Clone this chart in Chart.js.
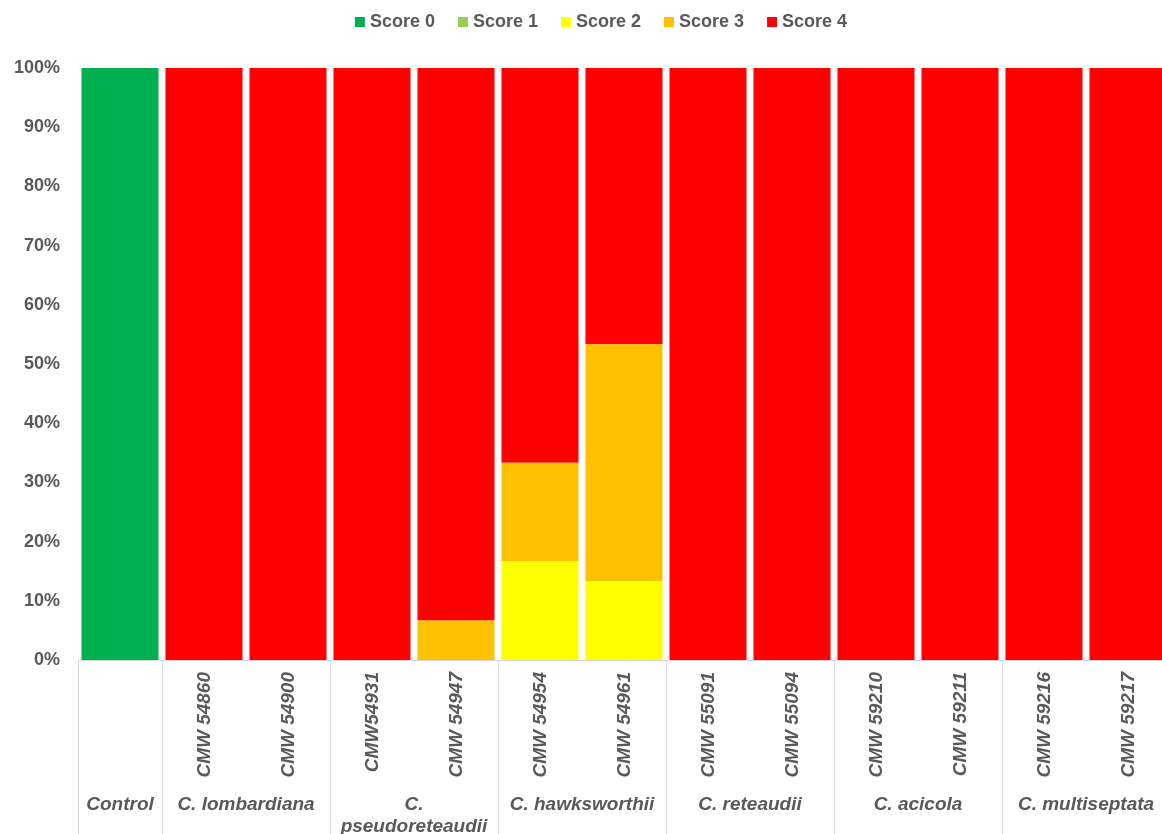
<!DOCTYPE html>
<html>
<head>
<meta charset="utf-8">
<title>Disease score by isolate</title>
<script src="https://cdn.jsdelivr.net/npm/chart.js@4.4.1/dist/chart.umd.min.js"></script>
<style>
  html, body { margin: 0; padding: 0; background: #fff; overflow: hidden; }
  #wrap { width: 1170px; height: 834px; }
</style>
</head>
<body>
<div id="wrap"><canvas id="chart" width="1170" height="834"></canvas></div>
<script>
// Isolates (one bar each) and the species they belong to
const strains = ['', 'CMW 54860', 'CMW 54900', 'CMW54931', 'CMW 54947', 'CMW 54954', 'CMW 54961',
                 'CMW 55091', 'CMW 55094', 'CMW 59210', 'CMW 59211', 'CMW 59216', 'CMW 59217'];
const groupNames = ['Control', 'C. lombardiana', 'C.\npseudoreteaudii', 'C. hawksworthii',
                    'C. reteaudii', 'C. acicola', 'C. multiseptata'];
const groupSizes = [1, 2, 2, 2, 2, 2, 2];

// Percentage of plants in each disease score class
const score0 = [100, 0, 0, 0, 0, 0, 0, 0, 0, 0, 0, 0, 0];
const score1 = [0, 0, 0, 0, 0, 0, 0, 0, 0, 0, 0, 0, 0];
const score2 = [0, 0, 0, 0, 0, 16.67, 13.33, 0, 0, 0, 0, 0, 0];
const score3 = [0, 0, 0, 0, 6.67, 16.67, 40, 0, 0, 0, 0, 0, 0];
const score4 = [0, 100, 100, 100, 93.33, 66.67, 46.67, 100, 100, 100, 100, 100, 100];

const seriesNames = ['Score 0', 'Score 1', 'Score 2', 'Score 3', 'Score 4'];
const seriesColors = ['#00B050', '#92D050', '#FFFF00', '#FFC000', '#FF0000'];
const seriesValues = [score0, score1, score2, score3, score4];

const yTicks = [0, 10, 20, 30, 40, 50, 60, 70, 80, 90, 100];

const FONT = '"Liberation Sans", Arial, sans-serif';
const TEXT = '#595959';
const LINE = '#d9d9d9';

// Legend across the top, centred above the plot
const topLegend = {
  id: 'topLegend',
  afterDraw(chart) {
    const ctx = chart.ctx;
    ctx.save();
    ctx.font = 'bold 18px ' + FONT;
    ctx.textBaseline = 'middle';
    ctx.textAlign = 'left';
    const gap = 23, box = 10, boxGap = 5;
    const widths = chart.data.datasets.map(d => ctx.measureText(d.label).width);
    const total = widths.reduce((a, w) => a + box + boxGap + w, 0) + gap * (widths.length - 1);
    let x = 601 - total / 2;
    const y = 21;
    chart.data.datasets.forEach((d, i) => {
      ctx.fillStyle = d.backgroundColor;
      ctx.fillRect(x, y - 4, box, box);
      ctx.fillStyle = TEXT;
      ctx.fillText(d.label, x + box + boxGap, y + 1);
      x += box + boxGap + widths[i] + gap;
    });
    ctx.restore();
  }
};

// Two-level category axis: rotated isolate codes above species names
const groupAxis = {
  id: 'groupAxis',
  afterDraw(chart) {
    const ctx = chart.ctx;
    const xs = chart.scales.x;
    const top = chart.chartArea.bottom;
    const half = (xs.getPixelForValue(1) - xs.getPixelForValue(0)) / 2;
    ctx.save();

    // isolate codes, reading upwards
    ctx.fillStyle = TEXT;
    ctx.font = 'italic bold 19px ' + FONT;
    ctx.textAlign = 'right';
    ctx.textBaseline = 'middle';
    strains.forEach((s, i) => {
      if (!s) return;
      ctx.save();
      ctx.translate(xs.getPixelForValue(i) + 1, top + 12);
      ctx.rotate(-Math.PI / 2);
      ctx.fillText(s, 0, 0);
      ctx.restore();
    });

    // species names and separators
    ctx.strokeStyle = LINE;
    ctx.lineWidth = 1;
    ctx.font = 'italic bold 19px ' + FONT;
    ctx.textAlign = 'center';
    let idx = 0;
    const edge = i => Math.round(xs.getPixelForValue(i) - half) + 0.5;
    const sep = x => { ctx.beginPath(); ctx.moveTo(x, top + 1); ctx.lineTo(x, chart.height); ctx.stroke(); };
    sep(edge(0));
    groupNames.forEach((g, k) => {
      const first = idx, last = idx + groupSizes[k] - 1;
      const cx = (xs.getPixelForValue(first) + xs.getPixelForValue(last)) / 2;
      const lines = g.split('\n');
      lines.forEach((ln, j) => ctx.fillText(ln, cx, top + 145 + j * 22));
      idx += groupSizes[k];
      sep(edge(idx));
    });
    ctx.restore();
  }
};

new Chart(document.getElementById('chart'), {
  type: 'bar',
  data: {
    labels: strains,
    datasets: seriesNames.map((name, i) => ({
      label: name,
      data: seriesValues[i],
      backgroundColor: seriesColors[i],
      borderWidth: 0,
      categoryPercentage: 1,
      barPercentage: 0.917
    }))
  },
  options: {
    responsive: false,
    animation: false,
    devicePixelRatio: 1,
    layout: { padding: { top: 68, left: 0, right: 0, bottom: 0 } },
    plugins: {
      legend: { display: false },
      tooltip: { enabled: false }
    },
    scales: {
      x: {
        stacked: true,
        grid: { display: false, drawTicks: false },
        border: { color: LINE, width: 1 },
        ticks: { display: false },
        afterFit(scale) { scale.height = 174; }
      },
      y: {
        stacked: true,
        min: 0,
        max: 100,
        grid: { display: false, drawTicks: false },
        border: { display: false },
        afterBuildTicks(scale) { scale.ticks = yTicks.map(v => ({ value: v })); },
        ticks: {
          padding: 18,
          color: TEXT,
          font: { family: FONT, size: 18, weight: 'bold' },
          callback: v => v + '%'
        },
        afterFit(scale) { scale.width = 78; }
      }
    }
  },
  plugins: [topLegend, groupAxis]
});
</script>
</body>
</html>
